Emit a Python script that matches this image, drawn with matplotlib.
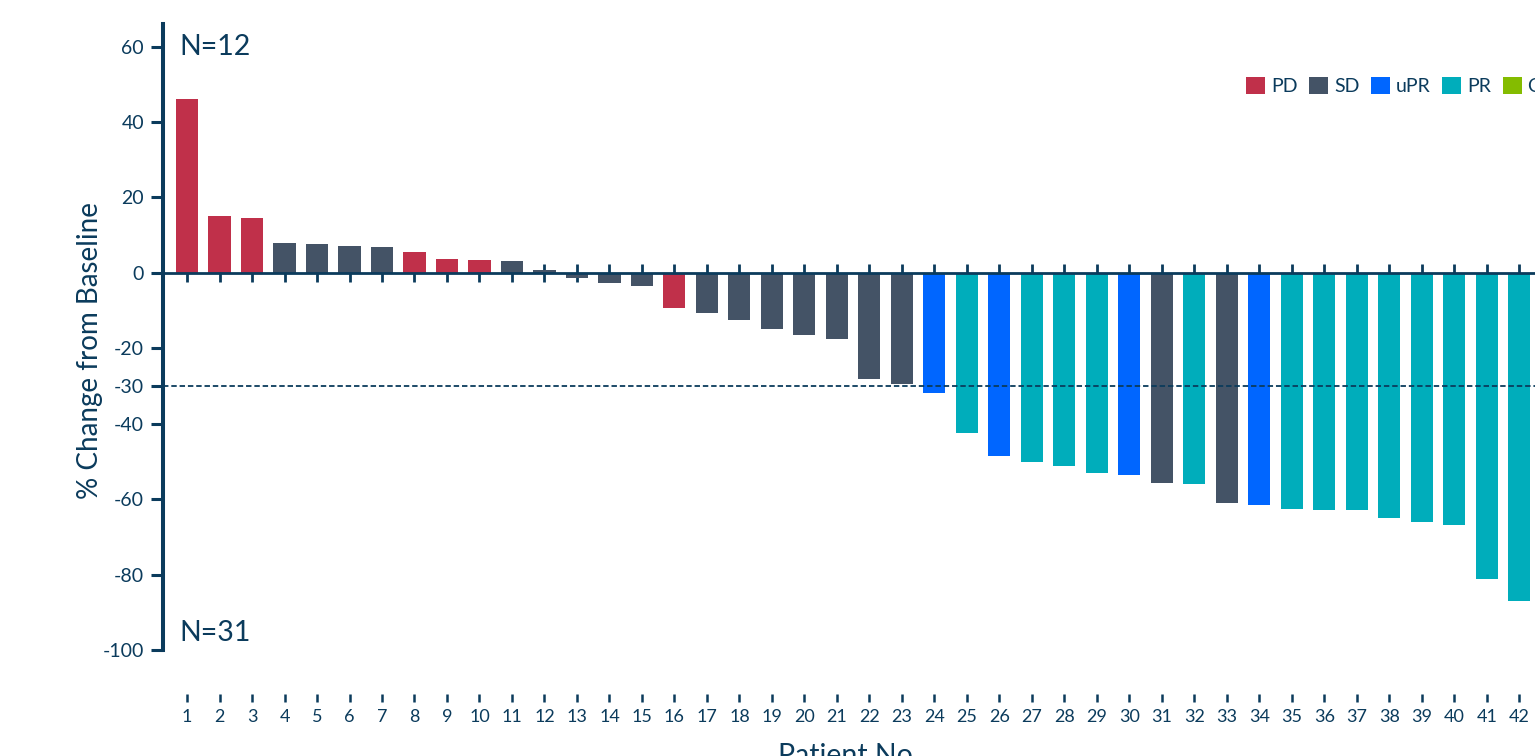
import matplotlib
matplotlib.use("Agg")
import matplotlib.pyplot as plt
from matplotlib.patches import Patch
import numpy as np

plt.rcParams['font.family'] = ['Lato', 'DejaVu Sans']

# Best % change in tumour size from baseline, one bar per patient (sorted)
patients = list(range(1, 43))
pct_change = [46.2, 15.1, 14.6, 8.0, 7.7, 7.2, 6.9, 5.6, 3.7, 3.4,
              3.2, 0.8, -1.4, -2.8, -3.6, -9.2, -10.7, -12.4, -14.8, -16.4,
              -17.5, -28.2, -29.4, -31.8, -42.4, -48.5, -50.1, -51.1, -53.0, -53.5,
              -55.6, -56.1, -60.9, -61.5, -62.5, -62.8, -62.8, -64.9, -66.0, -66.8,
              -81.1, -86.9]
response = ['PD', 'PD', 'PD', 'SD', 'SD', 'SD', 'SD', 'PD', 'PD', 'PD',
            'SD', 'SD', 'SD', 'SD', 'SD', 'PD', 'SD', 'SD', 'SD', 'SD',
            'SD', 'SD', 'SD', 'uPR', 'PR', 'uPR', 'PR', 'PR', 'PR', 'uPR',
            'SD', 'PR', 'SD', 'uPR', 'PR', 'PR', 'PR', 'PR', 'PR', 'PR',
            'PR', 'PR']
categories = ['PD', 'SD', 'uPR', 'PR', 'CR']
colors = {'PD': '#c0304a', 'SD': '#445366', 'uPR': '#0066ff',
          'PR': '#00adbb', 'CR': '#84bc00'}
y_ticks = [60, 40, 20, 0, -20, -30, -40, -60, -80, -100]
threshold = -30
n_labels = ['N=12', 'N=31']

navy = '#0b3b5c'

fig = plt.figure(figsize=(15.35, 7.56), dpi=100)
ax = fig.add_axes([163 / 1535, 106 / 756, 1405 / 1535, 626 / 756])

ax.bar(patients, pct_change, width=0.68,
       color=[colors[r] for r in response], zorder=3)

# zero baseline with small crossing ticks at each patient
ax.axhline(0, color=navy, lw=2.0, zorder=4)
ax.plot(patients, np.zeros(len(patients)), ls='none', marker='|',
        ms=13.5, mew=2.0, color=navy, zorder=2)

# -30% response threshold
ax.axhline(threshold, color=navy, lw=1.3, ls=(0, (3, 1.6)), zorder=5)

ax.set_xlim(0.26, 43.5)
ax.set_ylim(-100, 66)

ax.set_yticks(y_ticks)
ax.set_yticklabels([str(t) for t in y_ticks])
ax.set_xticks(patients)
ax.set_xticklabels([str(p) for p in patients])

for side in ['top', 'right']:
    ax.spines[side].set_visible(False)
ax.spines['left'].set_color(navy)
ax.spines['left'].set_linewidth(2.9)
ax.spines['bottom'].set_position(('outward', 32))
ax.spines['bottom'].set_visible(False)

ax.tick_params(axis='y', length=8.6, width=2.2, color=navy, pad=5,
               labelsize=14, labelcolor=navy)
ax.tick_params(axis='x', length=5.8, width=1.8, color=navy, pad=5,
               labelsize=13, labelcolor=navy)

ax.set_ylabel('% Change from Baseline', fontsize=20, color=navy)
ax.yaxis.set_label_coords(-0.043, 0.479)
ax.set_xlabel('Patient No', fontsize=20.5, color=navy)
ax.xaxis.set_label_coords((845 - 163) / 1405, -0.148)

ax.text(0.012, 0.963, n_labels[0], transform=ax.transAxes, fontsize=20.5,
        color=navy, va='center', ha='left')
ax.text(0.012, 0.027, n_labels[1], transform=ax.transAxes, fontsize=20.5,
        color=navy, va='center', ha='left')

handles = [Patch(facecolor=colors[c], edgecolor='none', label=c) for c in categories]
leg = fig.legend(handles=handles, loc='center left', ncol=5,
                 bbox_to_anchor=(1246 / 1535, 1 - 86 / 756),
                 frameon=False, fontsize=14, handlelength=0.98,
                 handleheight=0.98, handletextpad=0.3, columnspacing=0.6,
                 borderpad=0, borderaxespad=0)
for t in leg.get_texts():
    t.set_color(navy)

fig.savefig('out.png', dpi=100)
